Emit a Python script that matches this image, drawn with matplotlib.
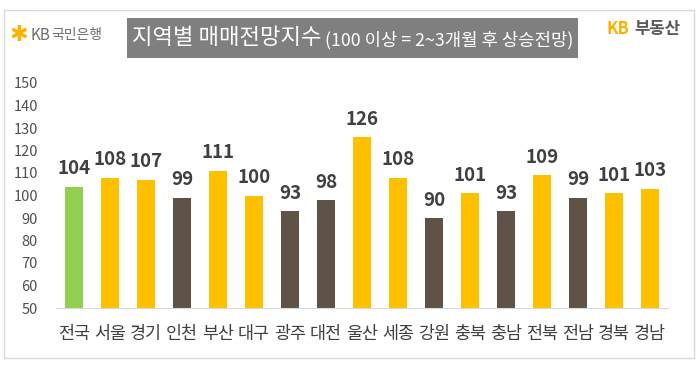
import matplotlib
matplotlib.use("Agg")
import matplotlib.pyplot as plt
from matplotlib.patches import Rectangle

plt.rcParams['font.family'] = ['Noto Sans CJK KR', 'DejaVu Sans']

# 데이터
지역 = ['전국', '서울', '경기', '인천', '부산', '대구', '광주', '대전', '울산',
      '세종', '강원', '충북', '충남', '전북', '전남', '경북', '경남']
지수 = [104, 108, 107, 99, 111, 100, 93, 98, 126, 108, 90, 101, 93, 109, 99, 101, 103]
y_ticks = [50, 60, 70, 80, 90, 100, 110, 120, 130, 140, 150]

GREEN = '#92D050'
ORANGE = '#FFC000'
DARK = '#5E5346'

cores = []
for i, v in enumerate(지수):
    if i == 0:
        cores.append(GREEN)
    elif v >= 100:
        cores.append(ORANGE)
    else:
        cores.append(DARK)

W, H = 700, 365
fig = plt.figure(figsize=(W / 100, H / 100), dpi=100)

def px(x, y):
    # pixel -> figure fraction
    return x / W, 1 - y / H

# moldura
fig.patches.append(Rectangle(px(4, 358), 690 / W, 348 / H, transform=fig.transFigure,
                             fill=False, edgecolor='#D9D9D9', linewidth=1))

ax = fig.add_axes([56 / W, 1 - 308 / H, 612 / W, 225 / H])
x = range(len(지역))
ax.bar(x, 지수, width=0.5, color=cores, bottom=0)
ax.set_ylim(50, 150)
ax.set_xlim(-0.5, len(지역) - 0.5)
ax.set_yticks(y_ticks)
ax.set_xticks(list(x))
ax.set_xticklabels(지역)
ax.tick_params(axis='y', length=0, pad=13, labelsize=10.5, labelcolor='#505050')
ax.tick_params(axis='x', length=0, pad=12, labelsize=12.5, labelcolor='#404040')
for s in ['top', 'right', 'left']:
    ax.spines[s].set_visible(False)
ax.spines['bottom'].set_color('#D9D9D9')

for i, v in enumerate(지수):
    ax.annotate(str(v), (i, v), xytext=(0, 6), textcoords='offset points',
                ha='center', va='bottom', fontsize=13.5, color='#404040',
                fontweight='bold', clip_on=False)

# 제목 박스
fig.patches.append(Rectangle(px(127, 58), 451 / W, 40 / H, transform=fig.transFigure,
                             facecolor='#7F7F7F', edgecolor='none'))
fig.text(*px(132, 38), '지역별 매매전망지수', color='white', fontsize=16,
         fontweight='medium', ha='left', va='center')
fig.text(*px(325, 40), '(100 이상 = 2~3개월 후 상승전망)', color='white', fontsize=12.8,
         ha='left', va='center')

# 로고
fig.text(*px(10, 35), '✱', color='#FFB300', fontsize=16, ha='left', va='center',
         family=['DejaVu Sans'])
fig.text(*px(31, 35), 'KB', color='#6E6E6E', fontsize=11, ha='left', va='center')
fig.text(*px(51, 35), '국민은행', color='#6E6E6E', fontsize=10, ha='left', va='center')

fig.text(*px(607, 29), 'KB', color='#FFB000', fontsize=12, fontweight='bold',
         ha='left', va='center')
fig.text(*px(634, 29), '부동산', color='#5A5A5A', fontsize=12, fontweight='bold',
         ha='left', va='center')

fig.savefig('out.png', dpi=100)
